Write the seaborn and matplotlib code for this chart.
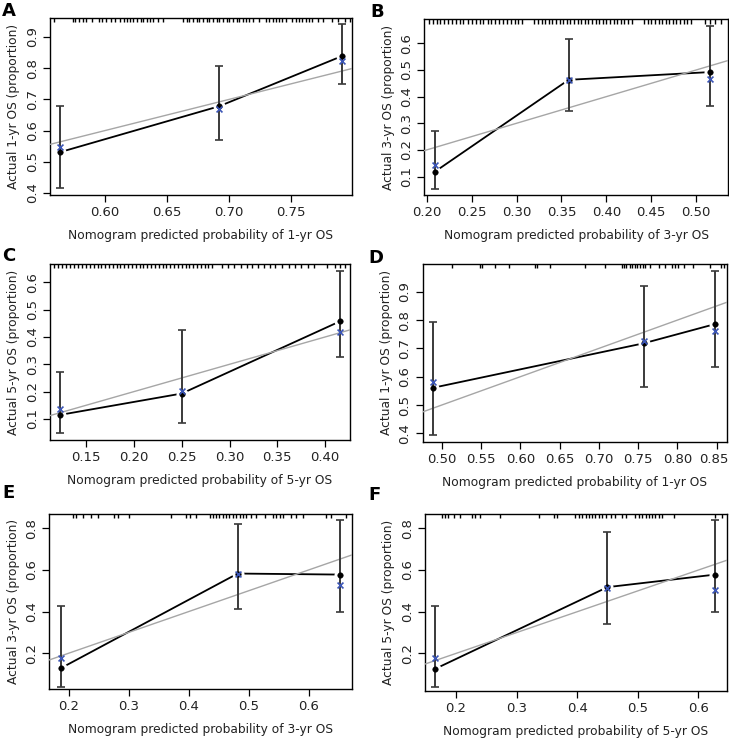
import matplotlib
matplotlib.use("Agg")
import matplotlib.pyplot as plt
import matplotlib.transforms as mtransforms
import seaborn as sns
import pandas as pd

# ---------------- data ----------------
labels = ["A", "B", "C", "D", "E", "F"]
horizons = ["1", "3", "5", "1", "3", "5"]

pred_A = [0.564, 0.692, 0.791]
obs_A = [0.531, 0.678, 0.839]
lo_A = [0.415, 0.569, 0.750]
hi_A = [0.680, 0.808, 0.942]
cor_A = [0.549, 0.668, 0.823]

pred_B = [0.209, 0.358, 0.515]
obs_B = [0.118, 0.463, 0.492]
lo_B = [0.052, 0.347, 0.364]
hi_B = [0.270, 0.617, 0.665]
cor_B = [0.144, 0.462, 0.466]

pred_C = [0.123, 0.250, 0.416]
obs_C = [0.115, 0.193, 0.458]
lo_C = [0.048, 0.087, 0.326]
hi_C = [0.270, 0.426, 0.643]
cor_C = [0.135, 0.204, 0.417]

pred_D = [0.489, 0.757, 0.848]
obs_D = [0.561, 0.718, 0.786]
lo_D = [0.396, 0.565, 0.635]
hi_D = [0.792, 0.920, 0.972]
cor_D = [0.582, 0.727, 0.761]

pred_E = [0.187, 0.482, 0.653]
obs_E = [0.128, 0.583, 0.578]
lo_E = [0.040, 0.413, 0.398]
hi_E = [0.427, 0.823, 0.840]
cor_E = [0.178, 0.583, 0.527]

pred_F = [0.165, 0.450, 0.627]
obs_F = [0.125, 0.518, 0.578]
lo_F = [0.040, 0.342, 0.398]
hi_F = [0.427, 0.785, 0.840]
cor_F = [0.178, 0.512, 0.506]

rug_A = [0.559, 0.574, 0.576, 0.579, 0.582, 0.585, 0.590, 0.595, 0.598, 0.601,
         0.605, 0.608, 0.612, 0.615, 0.618, 0.620, 0.623, 0.626, 0.629, 0.631,
         0.634, 0.636, 0.639, 0.643, 0.647, 0.663, 0.666, 0.668, 0.671, 0.674,
         0.676, 0.679, 0.682, 0.684, 0.687, 0.690, 0.692, 0.695, 0.698, 0.700,
         0.703, 0.706, 0.708, 0.711, 0.714, 0.716, 0.719, 0.724, 0.730, 0.732,
         0.735, 0.738, 0.740, 0.743, 0.746, 0.751, 0.754, 0.756, 0.759, 0.762,
         0.764, 0.767, 0.772, 0.776, 0.783, 0.788, 0.793, 0.797]
rug_B = [0.203, 0.207, 0.211, 0.215, 0.219, 0.224, 0.228, 0.233, 0.237, 0.241,
         0.246, 0.250, 0.255, 0.259, 0.263, 0.268, 0.272, 0.276, 0.281, 0.285,
         0.289, 0.294, 0.298, 0.302, 0.306, 0.320, 0.324, 0.328, 0.332, 0.336,
         0.340, 0.344, 0.348, 0.352, 0.356, 0.360, 0.364, 0.368, 0.372, 0.376,
         0.380, 0.384, 0.388, 0.392, 0.396, 0.400, 0.404, 0.408, 0.412, 0.416,
         0.420, 0.424, 0.428, 0.442, 0.446, 0.450, 0.454, 0.458, 0.462, 0.466,
         0.470, 0.474, 0.478, 0.482, 0.486, 0.490, 0.494, 0.510, 0.515, 0.521,
         0.528]
rug_C = [0.117, 0.121, 0.125, 0.129, 0.133, 0.137, 0.142, 0.146, 0.150, 0.154,
         0.158, 0.162, 0.166, 0.170, 0.174, 0.178, 0.182, 0.186, 0.190, 0.194,
         0.198, 0.202, 0.206, 0.210, 0.214, 0.218, 0.222, 0.226, 0.230, 0.234,
         0.238, 0.242, 0.246, 0.250, 0.254, 0.258, 0.262, 0.266, 0.270, 0.274,
         0.278, 0.282, 0.292, 0.298, 0.305, 0.312, 0.318, 0.324, 0.330, 0.336,
         0.342, 0.348, 0.355, 0.362, 0.368, 0.375, 0.382, 0.388, 0.402, 0.410,
         0.416, 0.421]
rug_D = [0.513, 0.549, 0.551, 0.568, 0.585, 0.619, 0.621, 0.638, 0.682, 0.708,
         0.729, 0.732, 0.735, 0.739, 0.742, 0.746, 0.749, 0.752, 0.756, 0.759,
         0.765, 0.776, 0.784, 0.793, 0.797, 0.801, 0.808, 0.820, 0.842, 0.855,
         0.859]
rug_E = [0.207, 0.213, 0.224, 0.238, 0.249, 0.276, 0.282, 0.301, 0.371, 0.396,
         0.402, 0.413, 0.435, 0.440, 0.446, 0.451, 0.457, 0.463, 0.468, 0.474,
         0.479, 0.485, 0.490, 0.496, 0.504, 0.513, 0.527, 0.540, 0.546, 0.552,
         0.557, 0.571, 0.579, 0.590, 0.629, 0.638, 0.663]
rug_F = [0.177, 0.181, 0.187, 0.196, 0.207, 0.226, 0.231, 0.240, 0.273, 0.337,
         0.361, 0.367, 0.397, 0.403, 0.408, 0.414, 0.419, 0.425, 0.430, 0.436,
         0.441, 0.447, 0.455, 0.463, 0.474, 0.480, 0.496, 0.502, 0.507, 0.513,
         0.518, 0.524, 0.529, 0.535, 0.540, 0.559, 0.628, 0.639]

xlims = [(0.5558, 0.799), (0.1974, 0.535), (0.1123, 0.426),
         (0.4758, 0.8627), (0.168, 0.672), (0.1488, 0.6468)]
ylims = [(0.3935, 0.961), (0.031, 0.69), (0.023, 0.667),
         (0.3706, 0.998), (0.027, 0.869), (0.021, 0.869)]
xticks = [[0.60, 0.65, 0.70, 0.75],
          [0.20, 0.25, 0.30, 0.35, 0.40, 0.45, 0.50],
          [0.15, 0.20, 0.25, 0.30, 0.35, 0.40],
          [0.50, 0.55, 0.60, 0.65, 0.70, 0.75, 0.80, 0.85],
          [0.2, 0.3, 0.4, 0.5, 0.6],
          [0.2, 0.3, 0.4, 0.5, 0.6]]
xfmt = ["%.2f", "%.2f", "%.2f", "%.2f", "%.1f", "%.1f"]
yticks = [[0.4, 0.5, 0.6, 0.7, 0.8, 0.9],
          [0.1, 0.2, 0.3, 0.4, 0.5, 0.6],
          [0.1, 0.2, 0.3, 0.4, 0.5, 0.6],
          [0.4, 0.5, 0.6, 0.7, 0.8, 0.9],
          [0.2, 0.4, 0.6, 0.8],
          [0.2, 0.4, 0.6, 0.8]]

panels = [
    (pred_A, obs_A, lo_A, hi_A, cor_A, rug_A),
    (pred_B, obs_B, lo_B, hi_B, cor_B, rug_B),
    (pred_C, obs_C, lo_C, hi_C, cor_C, rug_C),
    (pred_D, obs_D, lo_D, hi_D, cor_D, rug_D),
    (pred_E, obs_E, lo_E, hi_E, cor_E, rug_E),
    (pred_F, obs_F, lo_F, hi_F, cor_F, rug_F),
]

# axes boxes in figure pixels: left, top, right, bottom
W, H = 729, 739
boxes = [(50, 18, 352, 195), (424.3, 19.3, 727.7, 195),
         (50, 264, 350, 440), (422.7, 264, 726.7, 441.7),
         (49.3, 514, 351.7, 689.3), (425, 514, 726.7, 690.7)]
letter_pos = [(2, 2), (370, 3), (2, 247), (368, 249), (2, 484), (368, 486)]

sns.set_theme(style="ticks")
plt.rcParams["font.family"] = ["DejaVu Sans"]
plt.rcParams["axes.linewidth"] = 1.0

fig = plt.figure(figsize=(W / 100, H / 100), dpi=100)
fig.patch.set_facecolor("white")
axes = []

for i, (pred, obs, lo, hi, cor, rug) in enumerate(panels):
    l, t, r, b = boxes[i]
    ax = fig.add_axes([l / W, 1 - b / H, (r - l) / W, (b - t) / H])
    axes.append(ax)
    ax.set_facecolor("white")
    for s in ax.spines.values():
        s.set_color("black")
        s.set_linewidth(1.0)
        s.set_visible(True)

    df = pd.DataFrame({"pred": pred, "obs": obs, "cor": cor})

    # observed line (type "b": with gaps around the points)
    sns.lineplot(data=df, x="pred", y="obs", color="black", lw=1.3,
                 ax=ax, zorder=2, sort=True)
    sns.scatterplot(data=df, x="pred", y="obs", color="white", s=75,
                    marker="o", linewidth=0, ax=ax, zorder=2.5)
    # ideal line
    ax.axline((0, 0), slope=1, color="#a6a6a6", lw=1.0, zorder=2.7)
    # error bars
    ax.errorbar(pred, obs, yerr=[[o - a for o, a in zip(obs, lo)],
                                 [h - o for o, h in zip(obs, hi)]],
                fmt="none", ecolor="#3a3a3a", elinewidth=1.4, capsize=3,
                capthick=1.2, zorder=3)
    sns.scatterplot(data=df, x="pred", y="obs", color="black", s=16,
                    marker="o", edgecolor="black", ax=ax, zorder=4)
    sns.scatterplot(data=df, x="pred", y="cor", color="#3b55b5", s=18,
                    marker="x", linewidth=1.2, ax=ax, zorder=5)

    # rug at top
    ax.vlines(rug, 0.975, 1.0, transform=ax.get_xaxis_transform(),
              color="black", lw=1.0, zorder=6)

    ax.set_xlim(*xlims[i])
    ax.set_ylim(*ylims[i])
    ax.set_xticks(xticks[i])
    ax.set_xticklabels([xfmt[i] % v for v in xticks[i]])
    ax.set_yticks(yticks[i])
    ax.set_yticklabels(["%.1f" % v for v in yticks[i]], rotation=90,
                       va="center")
    ax.tick_params(axis="both", direction="out", length=5, width=0.9,
                   color="black", labelsize=9.5, labelcolor="#222222", pad=3)
    ax.set_xlabel("Nomogram predicted probability of %s-yr OS" % horizons[i],
                  fontsize=8.8, color="#222222", labelpad=7)
    ax.set_ylabel("Actual %s-yr OS (proportion)" % horizons[i],
                  fontsize=8.8, color="#222222", labelpad=4)

    lx, ly = letter_pos[i]
    fig.text(lx / W, 1 - ly / H, labels[i], fontsize=13, fontweight="bold",
             ha="left", va="top", color="black")

# keep tick labels inside the figure on the right edge
fig.canvas.draw()
renderer = fig.canvas.get_renderer()
for ax in axes:
    for lab in ax.get_xticklabels():
        bb = lab.get_window_extent(renderer)
        if bb.x1 > W - 1:
            shift = (bb.x1 - (W - 1)) / 100.0
            lab.set_transform(lab.get_transform() +
                              mtransforms.ScaledTranslation(-shift, 0,
                                                            fig.dpi_scale_trans))

fig.savefig("out.png", dpi=100, facecolor="white")
